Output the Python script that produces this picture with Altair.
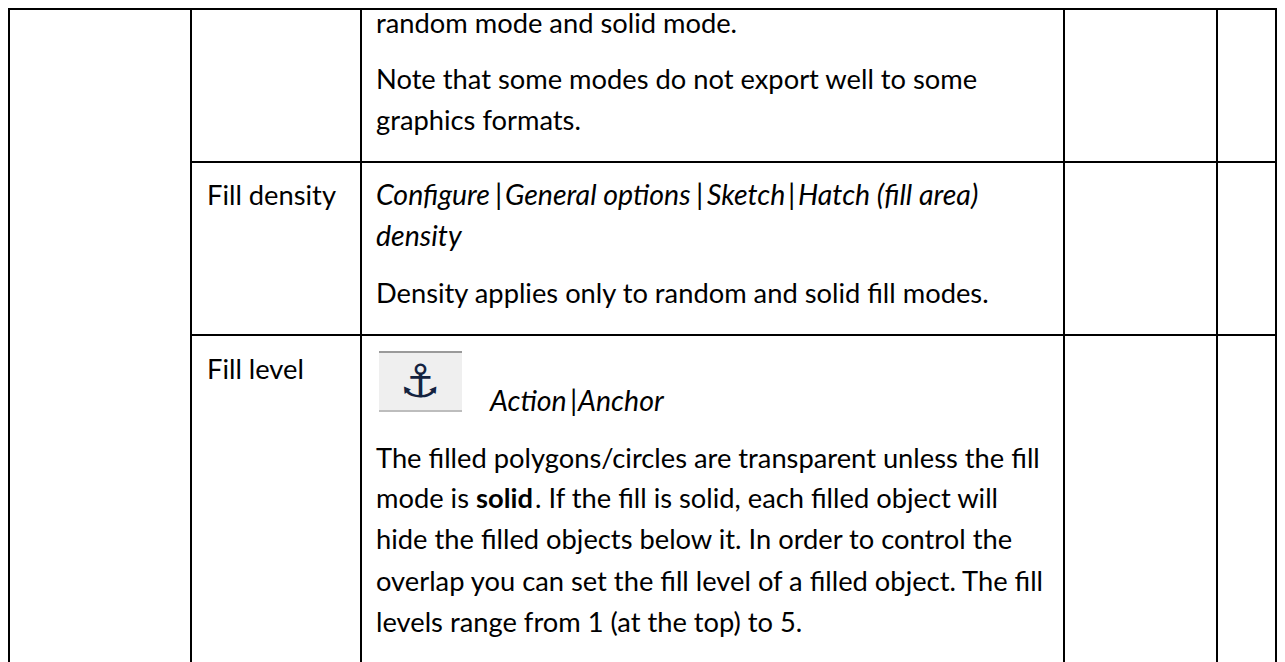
import altair as alt
import pandas as pd

W, H = 1269, 654
OX, OY = 8, 8  # the page margin

# table rules, in reference pixels
v_x = [9, 191, 361, 1064, 1217, 1276]
v_y1 = [5, 5, 5, 5, 5, 5]
v_y2 = [662, 662, 662, 662, 662, 662]
h_x1 = [8, 191, 191]
h_x2 = [1277, 1277, 1277]
h_y = [9, 162, 335]

# text lines
t_y = [33, 89, 130, 205, 246, 303, 379, 468, 508, 508, 549, 591, 632, 508,
       205, 205, 205, 205, 205, 205, 205, 411, 411, 411]
t_x = [376, 376, 376, 207, 376, 376, 207, 376, 376, 535, 376, 376, 376, 476,
       376, 495, 505, 696, 707, 788, 798, 490, 570, 578]
t_style = ["normal", "normal", "normal", "normal", "italic", "normal", "normal",
           "normal", "normal", "normal", "normal", "normal", "normal", "bold",
           "italic", "italic", "italic", "italic", "italic", "italic", "italic",
           "italic", "italic", "italic"]
t_text = [
    "random mode and solid mode.",
    "Note that some modes do not export well to some",
    "graphics formats.",
    "Fill density",
    "density",
    "Density applies only to random and solid fill modes.",
    "Fill level",
    "The filled polygons/circles are transparent unless the fill",
    "mode is",
    ". If the fill is solid, each filled object will",
    "hide the filled objects below it. In order to control the",
    "overlap you can set the fill level of a filled object. The fill",
    "levels range from 1 (at the top) to 5.",
    "solid",
    "Configure", "|", "General options", "|", "Sketch", "|", "Hatch (fill area)",
    "Action", "|", "Anchor",
]

# toolbar button behind the anchor icon
b_x1 = [379, 379, 379]
b_x2 = [462, 462, 462]
b_y1 = [351, 351, 410]
b_y2 = [412, 353, 412]
b_col = ["#EFEFEF", "#9A9A9A", "#BDBDBD"]
icon_x = [420]
icon_y = [383]
icon_text = ["\u2693"]

x_s = alt.Scale(domain=[OX, OX + W], range=[0, W])
y_s = alt.Scale(domain=[OY, OY + H], range=[0, H])
X = lambda f: alt.X(f, type="quantitative", scale=x_s, axis=None)
Y = lambda f: alt.Y(f, type="quantitative", scale=y_s, axis=None)

vr = alt.Chart(pd.DataFrame({"x": v_x, "y": v_y1, "y2": v_y2})).mark_rule(color="#000", strokeWidth=2, clip=True).encode(
    x=X("x"), y=Y("y"), y2="y2")
hr = alt.Chart(pd.DataFrame({"x": h_x1, "x2": h_x2, "y": h_y})).mark_rule(color="#000", strokeWidth=2, clip=True).encode(
    x=X("x"), x2="x2", y=Y("y"))
btn = alt.Chart(pd.DataFrame({"x": b_x1, "x2": b_x2, "y": b_y1, "y2": b_y2, "c": b_col})).mark_rect().encode(
    x=X("x"), x2="x2", y=Y("y"), y2="y2", color=alt.Color("c:N", scale=None))
icon = alt.Chart(pd.DataFrame({"x": icon_x, "y": icon_y, "t": icon_text})).mark_text(
    font="DejaVu Sans", fontSize=46, fontWeight="bold", color="#14233F", align="center", baseline="middle").encode(
    x=X("x"), y=Y("y"), text="t")

df = pd.DataFrame({"x": t_x, "y": t_y, "s": t_style, "t": t_text})
def text(d, size=27.3, **kw):
    return alt.Chart(d).mark_text(align="left", baseline="alphabetic", font="Lato", fontSize=size, color="#000", **kw).encode(
        x=X("x"), y=Y("y"), text="t")
txt_n = text(df[df.s == "normal"])
txt_i = text(df[df.s == "italic"], size=28.5, fontStyle="italic")
txt_b = text(df[df.s == "bold"], fontWeight="bold")

chart = alt.layer(vr, hr, btn, icon, txt_n, txt_i, txt_b).properties(
    width=W, height=H, padding=0, autosize="none", view=alt.ViewConfig(stroke=None))
chart.save("out.html", embed_options={"renderer": "svg", "actions": False})
